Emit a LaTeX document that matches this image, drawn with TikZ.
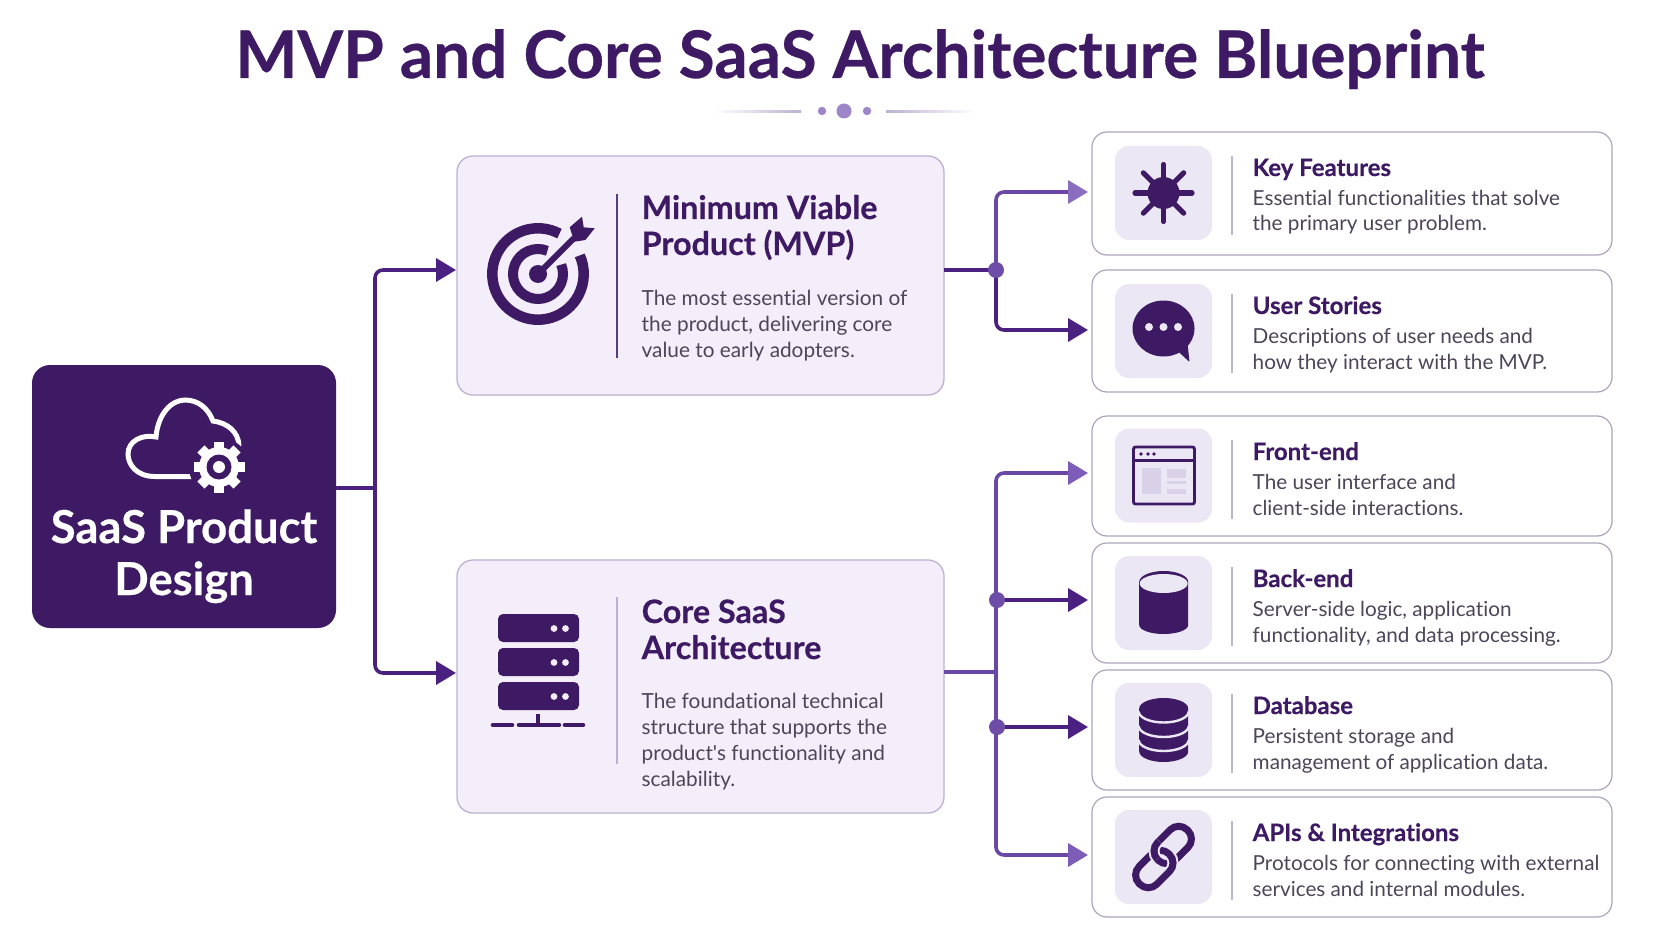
\documentclass[tikz,border=0pt]{standalone}
\usepackage{fontspec}
\setmainfont{Lato}[Ligatures={TeXOff,NoCommon},BoldFeatures={FakeBold=0.45}]
\usetikzlibrary{arrows.meta}
\definecolor{deep}{HTML}{3D1A63}
\definecolor{boxfill}{HTML}{F3EEF9}
\definecolor{boxline}{HTML}{BDB1D3}
\definecolor{tile}{HTML}{ECE7F5}
\definecolor{cardline}{HTML}{ADA4BC}
\definecolor{body}{HTML}{4C4658}
\definecolor{arrlight}{HTML}{7D5DB8}
\definecolor{arrmid}{HTML}{6A48A6}
\definecolor{arrdark}{HTML}{4A2180}
\definecolor{dotc}{HTML}{6E4DA9}
\definecolor{pale}{HTML}{D9D1E8}
\tikzset{
  bigbox/.style={draw=boxline,fill=boxfill,line width=1.3pt,rounded corners=16pt,minimum width=487pt,inner sep=0pt,outer sep=0pt},
  cardbox/.style={draw=cardline,fill=white,line width=1.2pt,rounded corners=15pt,minimum width=520pt,inner sep=0pt,outer sep=0pt},
  tilebox/.style={fill=tile,rounded corners=14pt,minimum width=97pt,minimum height=94pt,inner sep=0pt},
  htext/.style={anchor=base west,inner sep=0pt,align=left,text=deep,font=\fontsize{32.3}{36}\selectfont\bfseries},
  dtext/.style={anchor=base west,inner sep=0pt,align=left,text=body,font=\fontsize{20.8}{26}\selectfont},
  ctitle/.style={anchor=base west,inner sep=0pt,text=deep,font=\fontsize{24}{28}\selectfont\bfseries},
  cdesc/.style={anchor=base west,inner sep=0pt,align=left,text=body,font=\fontsize{20.7}{25.5}\selectfont},
  link/.style={line width=3.6pt,rounded corners=8pt},
  tip/.style={-{Triangle[length=20pt,width=23pt]},shorten >=3pt},
  junction/.style={circle,fill=dotc,minimum size=16pt,inner sep=0pt},
  icon/.style={shift={#1},x=1pt,y=1pt},
}
\newcommand{\featcard}[6]{% name, top, bottom, tile-centre y, title, desc
  \pgfmathsetmacro{\cy}{(#2+#3)/2}
  \pgfmathsetmacro{\ch}{#3-#2}
  \node[cardbox,minimum height=\ch pt] (#1) at (1352,\cy) {};
  \node[tilebox] (#1tile) at (1163.5,#4) {};
  \draw[color=cardline!80,line width=1.5pt] (1232,#2+24) -- (1232,#2+103);
  \node[ctitle] (#1head) at (1252.5,#2+44) {#5};
  \node[cdesc] (#1text) at (1252.5,#2+99) {#6};
}
\begin{document}
\begin{tikzpicture}[x=1pt,y=-1pt]
\useasboundingbox (0,0) rectangle (1672,941);
\fill[color=white] (0,0) rectangle (1672,941);

% title
\node[anchor=base,inner sep=0pt,text=deep,font=\fontsize{65.7}{70}\selectfont\bfseries] (title) at (860,78) {MVP and Core SaaS Architecture Blueprint};
\shade[left color=white,right color=boxline] (714,110.2) rectangle (801,112.2);
\shade[left color=boxline,right color=white] (886,110.2) rectangle (976,112.2);
\fill[color=arrlight!75] (822,111) circle (4.2pt);
\fill[color=arrlight!75] (844,111) circle (7.5pt);
\fill[color=arrlight!75] (867,111) circle (4.2pt);

% root
\node[fill=deep,rounded corners=18pt,minimum width=304pt,minimum height=263pt,inner sep=0pt,outer sep=0pt] (saas) at (184,496.5) {};
\node[anchor=base,inner sep=0pt,align=center,text=white,font=\fontsize{45.4}{52}\selectfont\bfseries] (saaslabel) at (184,595) {SaaS Product\\Design};
% cloud + gear
\draw[color=white,line width=5pt,line cap=round] (192,476.5) -- (155,476.5)
  .. controls (136,476.5) and (128,464) .. (128,454)
  .. controls (128,441) and (142,434) .. (156,437)
  .. controls (158,413) and (172,400) .. (185,400)
  .. controls (198,400) and (208,408) .. (213,421)
  .. controls (228,423) and (238,432) .. (239,445);
\fill[color=deep] (219,467) circle (30pt);
\foreach \a in {0,45,...,315}{
  \fill[color=white,rotate around={\a:(219,467)}] (214,441.5) rectangle (224,452);
}
\fill[color=white] (219,467) circle (20pt);
\fill[color=deep] (219,467) circle (12.5pt);
\fill[color=white] (219,467) circle (6pt);

% big boxes
\node[bigbox,minimum height=239pt] (mvp) at (700.5,275.5) {};
\node[bigbox,minimum height=253pt] (core) at (700.5,686.5) {};
\draw[color=deep!85,line width=1.6pt] (617,194) -- (617,358);
\draw[color=boxline,line width=1.6pt] (617,597) -- (617,764);
\node[htext] (mvphead) at (641.5,255) {Minimum Viable\\Product (MVP)};
\node[dtext] (mvptext) at (641.5,357) {The most essential version of\\the product, delivering core\\value to early adopters.};
\node[htext] (corehead) at (641.5,659) {Core SaaS\\Architecture};
\node[dtext] (coretext) at (641.5,786) {The foundational technical\\structure that supports the\\product's functionality and\\scalability.};

% target icon
\begin{scope}[icon={(538,274)}]
  \draw[color=deep,line width=10.5pt] (62:45.7) arc[start angle=62,end angle=384,radius=45.7pt];
  \draw[color=deep,line width=10pt] (68:25) arc[start angle=68,end angle=382,radius=25pt];
  \fill[color=deep] (0,0) circle (9pt);
  \draw[color=boxfill,line width=12pt] (8,8) -- (31,31);
  \draw[color=deep,line width=6pt] (0,0) -- (36,36);
  \fill[color=deep] (31.7,46.7) -- (44,57.3) -- (45.7,46.7) -- (56.7,45.7) -- (47.3,34) -- (36.3,32.3) -- cycle;
\end{scope}

% server icon
\foreach \yt/\nm in {614/a,648/b,682/c}{
  \fill[color=deep,rounded corners=5pt] (498,\yt) rectangle (579,\yt+28);
  \fill[color=boxfill] (554,\yt+14.5) circle (3.4pt);
  \fill[color=boxfill] (565.5,\yt+14.5) circle (3.4pt);
}
\draw[color=deep,line width=4pt] (538,714) -- (538,726);
\draw[color=deep,line width=4.6pt,line cap=round] (493,725) -- (512,725);
\draw[color=deep,line width=4.6pt,line cap=round] (519,725) -- (559,725);
\draw[color=deep,line width=4.6pt,line cap=round] (565,725) -- (583,725);

% cards
\featcard{kf}{132}{255}{193}{Key Features}{Essential functionalities that solve\\the primary user problem.}
\featcard{us}{270}{392}{331}{User Stories}{Descriptions of user needs and\\how they interact with the MVP.}
\featcard{fe}{416}{536}{475.5}{Front-end}{The user interface and\\client-side interactions.}
\featcard{be}{543}{663}{603}{Back-end}{Server-side logic, application\\functionality, and data processing.}
\featcard{db}{670}{790}{730}{Database}{Persistent storage and\\management of application data.}
\featcard{api}{797}{917}{857}{APIs \& Integrations}{Protocols for connecting with external\\services and internal modules.}

% connectors
\coordinate (lt) at (375,488);
\draw[color=arrdark,line width=3.6pt] (saas.east |- lt) -- (lt);
\draw[link,color=arrdark,tip,shorten >=1pt] (lt) -- (375,270) -- (mvp.west |- 0,270);
\draw[link,color=arrdark,tip,shorten >=1pt] (lt) -- (375,673) -- (core.west |- 0,673);

\coordinate (jm) at (996,270);
\draw[link,color=arrmid,-{Triangle[length=20pt,width=23pt,color=arrlight!90]},shorten >=4pt] (jm) -- (996,192) -- (kf.west |- 0,192);
\draw[link,color=arrdark,tip,shorten >=4pt] (jm) -- (996,330) -- (us.west |- 0,330);
\draw[line width=3.6pt,color=arrdark] (mvp.east |- jm) -- (jm);
\node[junction] (jmdot) at (jm) {};

\coordinate (jc) at (996,672);
\coordinate (jb) at (997,600);
\coordinate (jd) at (997,727);
\draw[link,color=arrmid,-{Triangle[length=20pt,width=23pt,color=arrlight]},shorten >=4pt] (jc) -- (996,473) -- (fe.west |- 0,473);
\draw[link,color=arrmid,-{Triangle[length=20pt,width=23pt,color=arrlight]},shorten >=4pt] (jc) -- (996,855) -- (api.west |- 0,855);
\draw[line width=3.6pt,color=arrmid] (core.east |- jc) -- (jc);
\draw[line width=3.6pt,color=arrdark,tip,shorten >=4pt] (jb) -- (be.west |- jb);
\draw[line width=3.6pt,color=arrdark,tip,shorten >=4pt] (jd) -- (db.west |- jd);
\node[junction] (jbdot) at (jb) {};
\node[junction] (jddot) at (jd) {};

% icon: star
\begin{scope}[icon={(1163.5,193)}]
  \fill[color=deep] (0,0) circle (16pt);
  \foreach \a in {0,45,...,315}{
    \draw[color=deep,line width=5.2pt,line cap=round] (0,0) -- (\a:28.5);
  }
\end{scope}
% icon: chat
\begin{scope}[icon={(1163.5,331)}]
  \fill[color=deep] (0,2.5) ellipse (31pt and 28pt);
  \fill[color=deep,rounded corners=1pt] (12,-18) -- (26,-31) -- (24,-12) -- cycle;
  \foreach \a in {-14.5,0,14.5}{\fill[color=tile] (\a,4) circle (4pt);}
\end{scope}
% icon: window
\begin{scope}[icon={(1164,475.5)}]
  \draw[color=deep,line width=2.8pt,rounded corners=2pt,fill=tile] (-30.5,28.5) rectangle (30.5,-28.5);
  \draw[color=deep,line width=2.4pt] (-30.5,15) -- (30.5,15);
  \foreach \a in {-23,-16,-10}{\fill[color=deep] (\a,21.5) circle (1.9pt);}
  \fill[color=pale] (-22,7.5) rectangle (-3,-18);
  \fill[color=pale] (3,6.5) rectangle (22,-2);
  \fill[color=pale] (3,-5) rectangle (22,-8.5);
  \fill[color=pale] (3,-13) rectangle (22,-18.5);
\end{scope}
% icon: cylinder
\begin{scope}[icon={(1163.7,603)}]
  \fill[color=deep] (-24.5,21) -- (-24.5,-22) arc[start angle=180,end angle=360,x radius=24.5pt,y radius=9pt] -- (24.5,21) arc[start angle=0,end angle=180,x radius=24.5pt,y radius=11pt] -- cycle;
  \fill[color=tile] (0,19.5) ellipse (24pt and 9.5pt);
\end{scope}
% icon: database
\begin{scope}[icon={(1163.7,730)}]
  \fill[color=deep] (-24.5,21.5) -- (-24.5,-21.5) arc[start angle=180,end angle=360,x radius=24.5pt,y radius=10.5pt] -- (24.5,21.5) arc[start angle=0,end angle=180,x radius=24.5pt,y radius=10.5pt] -- cycle;
  \foreach \e in {18.5,4,-10}{
    \draw[color=tile,line width=2.4pt] (-25,\e) arc[start angle=180,end angle=360,x radius=25pt,y radius=11pt];
  }
\end{scope}
% icon: chain
\begin{scope}[icon={(1163.5,857)},rotate=45]
  \draw[color=deep,line width=7pt,rounded corners=12pt] (-6,-10.5) rectangle (36,14.5);
  \draw[color=tile,line width=11pt,rounded corners=12pt] (-36,-14.5) rectangle (6,10.5);
  \draw[color=deep,line width=7pt,rounded corners=12pt] (-36,-14.5) rectangle (6,10.5);
  \begin{scope}
    \clip (-14,20) rectangle (8,3);
    \draw[color=tile,line width=11pt,rounded corners=12pt] (-6,-10.5) rectangle (36,14.5);
    \draw[color=deep,line width=7pt,rounded corners=12pt] (-6,-10.5) rectangle (36,14.5);
  \end{scope}
\end{scope}
\end{tikzpicture}
\end{document}
